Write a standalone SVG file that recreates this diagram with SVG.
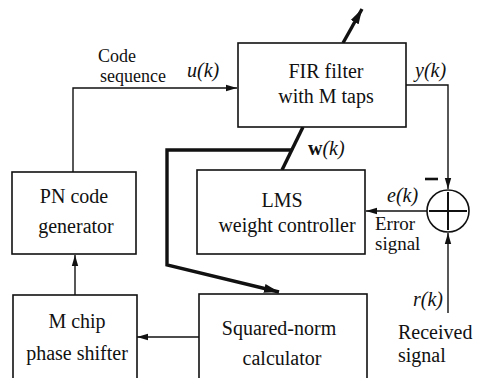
<svg xmlns="http://www.w3.org/2000/svg" width="479" height="378" viewBox="0 0 479 378">
<style>
text{font-family:"Liberation Serif","Times New Roman",serif;font-size:20px;fill:#111}
.sm{font-size:19px}
.xs{font-size:18px}
.box{fill:#fff;stroke:#111;stroke-width:1.6}
.c{text-anchor:middle}
.it{font-style:italic}
.ln{fill:none;stroke:#111;stroke-width:1.4}
.thick{fill:none;stroke:#111;stroke-width:3.4;stroke-linejoin:miter}
</style>
<defs>
<marker id="ah" markerWidth="12" markerHeight="8" refX="11" refY="4" orient="auto" markerUnits="userSpaceOnUse">
<path d="M0,0.8 L11,4 L0,7.2 Z" fill="#111"/>
</marker>
<marker id="ahb" markerWidth="16" markerHeight="10" refX="15" refY="5" orient="auto" markerUnits="userSpaceOnUse">
<path d="M0,0.5 L15,5 L0,9.5 Z" fill="#111"/>
</marker>
</defs>
<rect width="479" height="378" fill="#fff"/>
<g id="connectors">
<path class="ln" d="M73,172 V88 H237" marker-end="url(#ah)"/>
<path class="ln" d="M406,85 H448 V189" marker-end="url(#ah)"/>
<path class="ln" d="M427,211 H366" marker-end="url(#ah)"/>
<path class="ln" d="M448,313 V233" marker-end="url(#ah)"/>
<path class="ln" d="M199,337 H137" marker-end="url(#ah)"/>
<path class="ln" d="M75,295 V255" marker-end="url(#ah)"/>
<path class="thick" d="M343,43 L362,9" marker-end="url(#ahb)"/>
<path class="thick" d="M303,127 L282,170"/>
<path class="thick" d="M292,150 H167 V265 L279,292" marker-end="url(#ahb)"/>
<line x1="425" y1="179" x2="438" y2="179" stroke="#111" stroke-width="2.6"/>
<text x="98" y="62" class="xs">Code</text>
<text x="100" y="82" class="xs">sequence</text>
<text x="187" y="77" class="it">u(k)</text>
<text x="415" y="77" class="it">y(k)</text>
<text x="308" y="155"><tspan font-weight="bold">w</tspan><tspan class="it">(k)</tspan></text>
<text x="387" y="202" class="it">e(k)</text>
<text x="375" y="230" class="sm">Error</text>
<text x="375" y="250" class="sm">signal</text>
<text x="413" y="306" class="it">r(k)</text>
<text x="398" y="339">Received</text>
<text x="398" y="362">signal</text>
</g>
<g id="fir">
<rect class="box" x="238" y="43" width="168" height="84"/>
<text x="326" y="78" class="c">FIR filter</text>
<text x="326" y="103" class="c">with M taps</text>
</g>
<g id="lms">
<rect class="box" x="197" y="170" width="168" height="84"/>
<text x="282" y="207" class="c">LMS</text>
<text x="287" y="232" class="c">weight controller</text>
</g>
<g id="sum">
<circle cx="448" cy="211" r="21" fill="#fff" stroke="#111" stroke-width="1.6"/>
<path d="M429,211 H467 M448,192 V230" stroke="#111" stroke-width="2"/>
</g>
<g id="pn">
<rect class="box" x="12" y="172" width="124" height="82"/>
<text x="74" y="203" class="c">PN code</text>
<text x="76" y="233" class="c">generator</text>
</g>
<g id="shifter">
<rect class="box" x="13" y="295" width="124" height="84"/>
<text x="77" y="328" class="c">M chip</text>
<text x="77" y="360" class="c">phase shifter</text>
</g>
<g id="sqnorm">
<rect class="box" x="199" y="294" width="168" height="85"/>
<text x="279" y="335" class="c">Squared-norm</text>
<text x="282" y="365" class="c">calculator</text>
</g>
</svg>
